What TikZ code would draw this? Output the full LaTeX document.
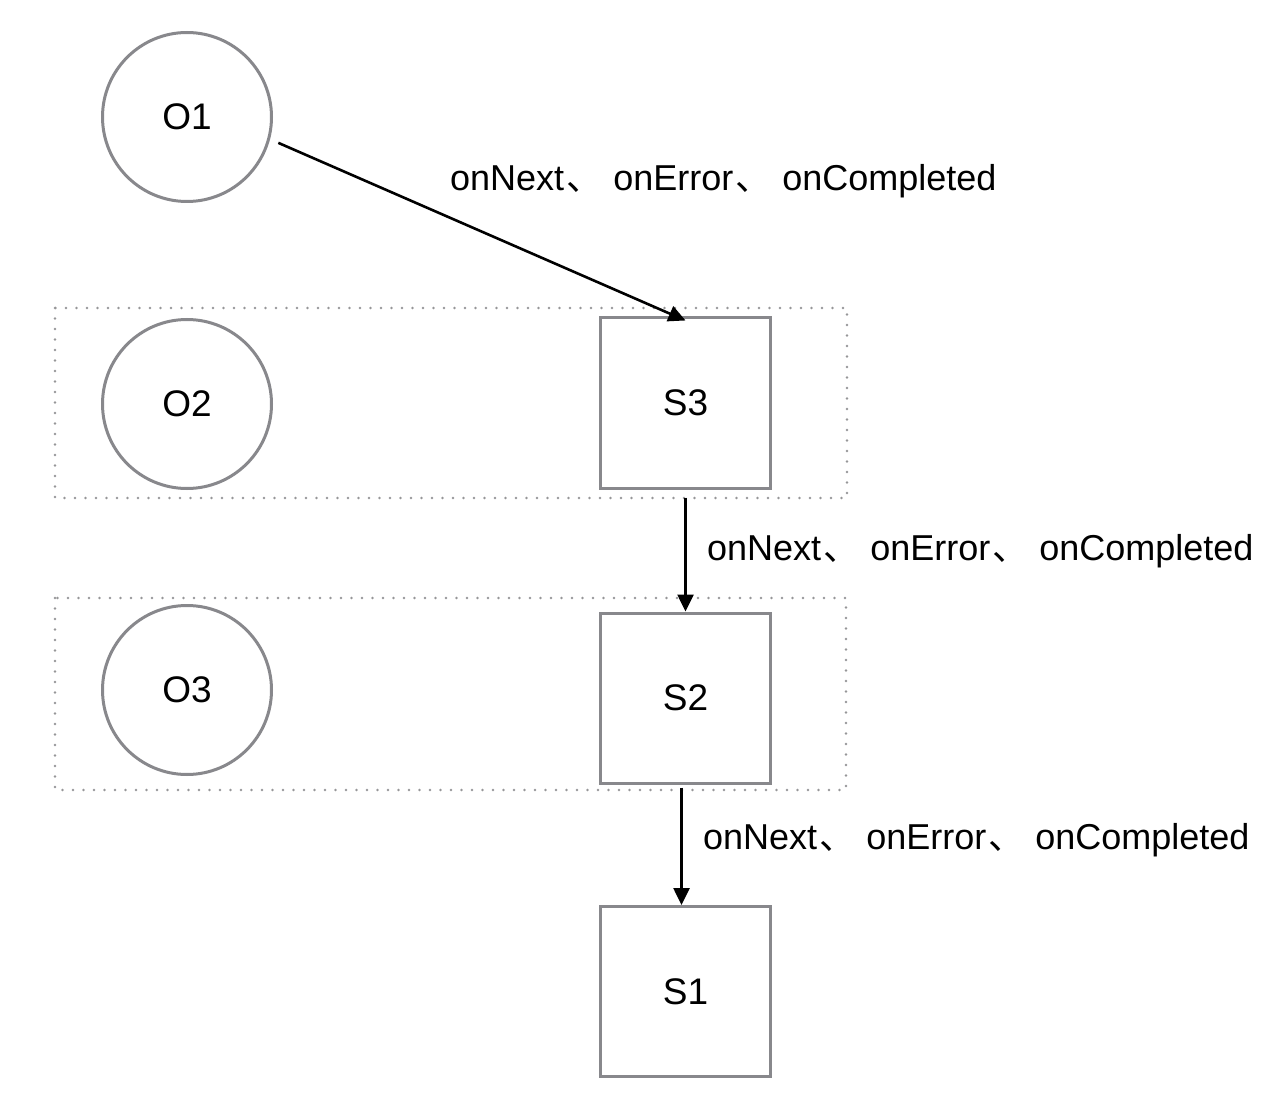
\documentclass[tikz,border=0pt]{standalone}
\usepackage{fontspec}
\setmainfont{Liberation Sans}
\newfontfamily\cjk{Noto Sans CJK SC}
\usetikzlibrary{arrows.meta}
\definecolor{edge}{RGB}{136,136,140}
\definecolor{dots}{RGB}{150,150,152}
\newcommand\sep{\hspace{2pt}{\cjk 、}\hspace{11pt}}
\newcommand\evts{onNext\sep onError\sep onCompleted}
\begin{document}
\begin{tikzpicture}[x=1pt,y=-1pt,
  font=\fontsize{36}{43}\selectfont,
  obs/.style={circle,draw=edge,line width=3pt,minimum size=169pt,inner sep=0pt,font=\fontsize{37}{44}\selectfont},
  sub/.style={rectangle,draw=edge,line width=3pt,minimum size=170pt,inner sep=0pt,font=\fontsize{37}{44}\selectfont},
  grp/.style={draw=dots,line width=2.6pt,dash pattern=on 0pt off 10.5pt,line cap=round},
  flow/.style={-{Triangle[length=17pt,width=16pt]},line width=2.6pt,black},
  lbl/.style={anchor=west,inner sep=0pt}]
\useasboundingbox (0,0) rectangle (1286,1102);
% dotted groups
\draw[grp] (55,308) rectangle (847,498);
\draw[grp] (55,598) rectangle (846,790);
% observables
\node[obs] (O1) at (187,117) {O1};
\node[obs] (O2) at (187,404) {O2};
\node[obs] (O3) at (187,690) {O3};
% subscribers
\node[sub] (S3) at (685.5,403) {S3};
\node[sub] (S2) at (685.5,698) {S2};
\node[sub] (S1) at (685.5,991.5) {S1};
% event flow
\draw[flow,shorten <=9pt] (O1.-15) -- ([yshift=-4pt]S3.north);
\draw[flow,shorten <=8pt] (S3.south) -- (S2.north);
\draw[flow,shorten <=3pt] ([xshift=-4pt]S2.south) -- ([xshift=-4pt]S1.north);
% labels
\node[lbl] (L1) at (450,181) {\evts};
\node[lbl] (L2) at (707,551) {\evts};
\node[lbl] (L3) at (703,840) {\evts};
\end{tikzpicture}
\end{document}
